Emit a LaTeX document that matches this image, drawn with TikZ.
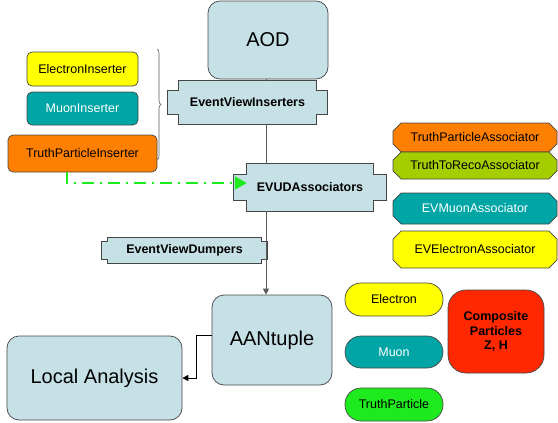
\documentclass[tikz,border=0pt]{standalone}
\usepackage{fontspec}
\setmainfont{Liberation Sans}
\usepackage{tikz}
\usetikzlibrary{arrows.meta,shapes.misc,backgrounds,decorations.pathreplacing}
\definecolor{viewblue}{RGB}{198,225,230}
\definecolor{edgegray}{RGB}{70,70,70}
\definecolor{linegray}{RGB}{90,90,90}
\definecolor{tealfill}{RGB}{0,165,165}
\definecolor{yellowfill}{RGB}{255,255,0}
\definecolor{orangefill}{RGB}{255,128,0}
\definecolor{limefill}{RGB}{165,205,0}
\definecolor{truthgreen}{RGB}{30,235,30}
\definecolor{compred}{RGB}{255,40,0}

\begin{document}
\begin{tikzpicture}[x=1pt,y=-1pt,
    bigbox/.style={draw=edgegray, fill=viewblue, rounded corners=12pt, line width=0.7pt,
      inner sep=0pt, font=\fontsize{20}{24}\selectfont},
    plug/.style={inner sep=0pt, font=\bfseries\fontsize{12.5}{15}\selectfont},
    plugline/.style={draw=edgegray, fill=viewblue, line width=0.7pt},
    tool/.style={draw=edgegray, rounded corners=5pt, line width=0.7pt, inner sep=0pt,
      font=\fontsize{12.5}{15}\selectfont},
    assoc/.style={chamfered rectangle, chamfered rectangle xsep=6pt, draw=edgegray,
      line width=0.7pt, inner sep=0pt, minimum width=164pt, font=\fontsize{12.5}{15}\selectfont},
    particle/.style={draw=edgegray, rounded corners=16pt, line width=0.7pt, inner sep=0pt,
      minimum width=98pt, font=\fontsize{12.5}{15}\selectfont},
    link/.style={draw=linegray, line width=0.8pt},
    flow/.style={-{Triangle[length=6pt,width=6pt]}, line width=0.9pt},
    truthlink/.style={draw=truthgreen, line width=2pt,
      dash pattern=on 12pt off 6pt on 2pt off 6pt, -{Triangle[length=12pt,width=13pt]}}
  ]
  \useasboundingbox (0,0) rectangle (558,423);

  % Main chain
  \node[bigbox, minimum width=120pt, minimum height=78pt] (aod) at (268,40) {AOD};
  \node[plug, minimum width=137pt, minimum height=43pt] (evi) at (247.5,102.5) {EventViewInserters};
  \node[plug, minimum width=126pt, minimum height=47pt] (evud) at (310,187.5) {EVUDAssociators};
  \node[plug, minimum width=153pt, minimum height=25pt] (evd) at (184.5,250.5) {EventViewDumpers};
  \node[bigbox, minimum width=120pt, minimum height=90pt] (aan) at (272,340) {AANtuple};
  \node[bigbox, minimum width=175pt, minimum height=84pt] (loc) at (94.5,378) {Local Analysis};
  \coordinate (spine) at (266,0);

  % Plug outlines
  \begin{scope}[on background layer]
    \foreach \nm/\ti/\tw in {evi/10/11, evud/11/13, evd/4/6}
      \draw[plugline] (\nm.north west) -- (\nm.north east) -- ([yshift=-\ti pt]\nm.north east)
        -- ++(\tw,0) -- ([xshift=\tw pt,yshift=\ti pt]\nm.south east) -- ([yshift=\ti pt]\nm.south east)
        -- (\nm.south east) -- (\nm.south west) -- ([yshift=\ti pt]\nm.south west)
        -- ++(-\tw,0) -- ([xshift=-\tw pt,yshift=-\ti pt]\nm.north west)
        -- ([yshift=-\ti pt]\nm.north west) -- cycle;
  \end{scope}

  % Inserters
  \node[tool, fill=yellowfill, minimum width=111pt, minimum height=34pt] (ein) at (82.5,69) {ElectronInserter};
  \node[tool, fill=tealfill, text=white, minimum width=111pt, minimum height=33pt] (min) at (82.5,108.5) {MuonInserter};
  \node[tool, fill=orangefill, minimum width=149pt, minimum height=37pt] (tpi) at (82.5,153.5) {TruthParticleInserter};
  \draw[draw=linegray, line width=0.6pt, decorate, decoration={brace, amplitude=4pt}] (157,49) -- (157,160);

  % Associators
  \node[assoc, fill=orangefill, minimum height=29pt] (tpa) at (475,137.5) {TruthParticleAssociator};
  \node[assoc, fill=limefill, minimum height=27pt] (ttr) at (475,165.5) {TruthToRecoAssociator};
  \node[assoc, fill=tealfill, text=white, minimum height=31pt] (evm) at (475,208.5) {EVMuonAssociator};
  \node[assoc, fill=yellowfill, minimum height=37pt] (eve) at (475,249.5) {EVElectronAssociator};

  % Particles
  \node[particle, fill=yellowfill, minimum height=33pt] (ele) at (394,299.5) {Electron};
  \node[particle, fill=tealfill, text=white, minimum height=32pt] (muo) at (394,352) {Muon};
  \node[particle, fill=truthgreen, minimum height=33pt] (trp) at (394,404.5) {TruthParticle};
  \node[draw=edgegray, fill=compred, rounded corners=18pt, line width=0.7pt, inner sep=0pt,
    minimum width=96pt, minimum height=83pt, align=center,
    font=\bfseries\fontsize{12.5}{14.5}\selectfont] (cmp) at (496,331.5) {Composite\\Particles\\Z, H};

  % Connectors
  \draw[link] (spine |- aod.south) -- (spine |- evi.north);
  \draw[link] (spine |- evi.south) -- (spine |- evud.north);
  \draw[link, flow] (spine |- evud.south) -- (spine |- aan.north);
  \draw[flow] ([yshift=5pt]aan.west) -- ++(-15,0) |- (loc.east);
  \draw[truthlink] ([xshift=-15.5pt]tpi.south) |- ([yshift=4.5pt]evud.west);
\end{tikzpicture}
\end{document}
